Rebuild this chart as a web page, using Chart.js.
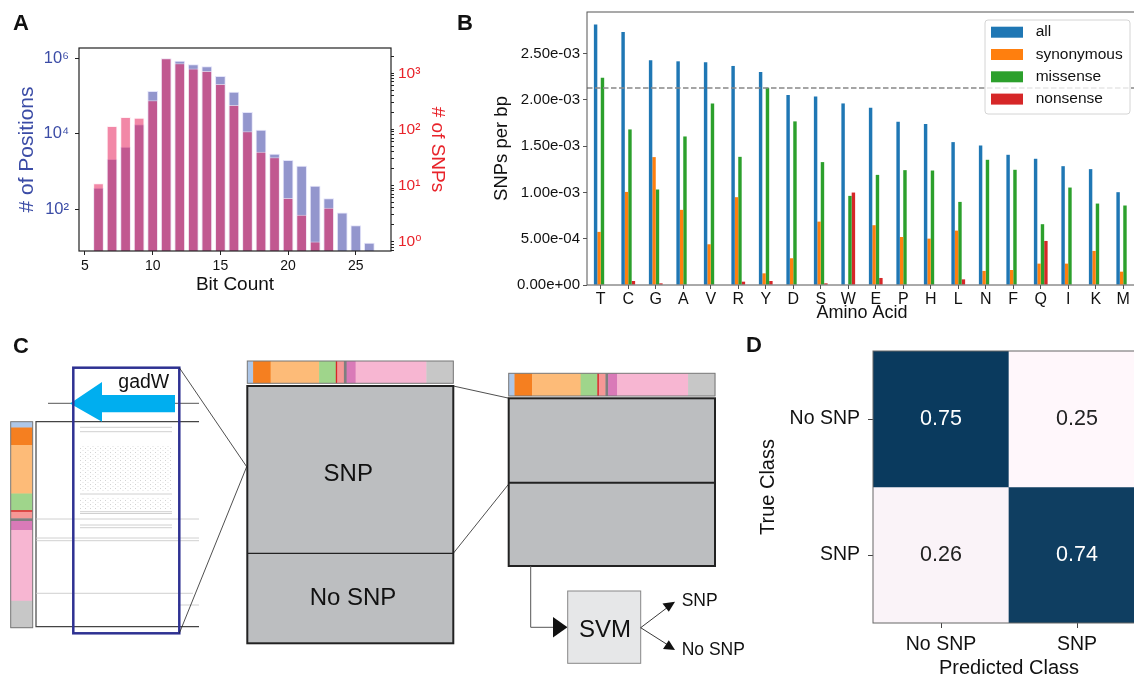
<!DOCTYPE html>
<html>
<head>
<meta charset="utf-8">
<script src="https://cdn.jsdelivr.net/npm/chart.js@4.4.1/dist/chart.umd.min.js"></script>
<style>
  html, body { margin: 0; padding: 0; background: #fff; }
  body { width: 1134px; height: 678px; overflow: hidden; position: relative; }
  canvas, svg { position: absolute; }
</style>
</head>
<body>
<canvas id="histA" width="460" height="300" style="left:0px;top:0px"></canvas>
<canvas id="barsB" width="677" height="330" style="left:460px;top:0px"></canvas>
<canvas id="confD" width="405" height="360" style="left:740px;top:330px"></canvas>
<svg id="diagram" width="1134" height="678" style="left:0px;top:0px"></svg>
<script>
// ---- panel A: bit count histogram ----
const bitCounts = [6, 7, 8, 9, 10, 11, 12, 13, 14, 15, 16, 17, 18, 19, 20, 21, 22, 23, 24, 25, 26];
const positionCounts = [372, 2150, 4550, 17900, 136000, 1000000, 865000, 692000, 614000, 340000,
  130000, 37800, 12800, 2970, 2020, 1430, 422, 196, 83, 38, 13];
const snpCounts = [11, 115, 166, 161, 330, 1850, 1510, 1210, 1100, 644,
  272, 93, 40, 32, 6, 3, 1, 4, null, null, null];
const positionTicks = [1e2, 1e4, 1e6];

// ---- panel B: SNPs per bp by amino acid ----
const aminoAcids = ['T', 'C', 'G', 'A', 'V', 'R', 'Y', 'D', 'S', 'W', 'E', 'P', 'H', 'L', 'N', 'F', 'Q', 'I', 'K', 'M'];
const allRate = [0.002814, 0.002734, 0.002428, 0.002417, 0.002406, 0.002367, 0.002302, 0.002053, 0.002038, 0.001962,
  0.001916, 0.001764, 0.001739, 0.001544, 0.001508, 0.001407, 0.001364, 0.001284, 0.001252, 0.001003];
const synonymousRate = [0.000574, 0.001006, 0.001382, 0.000812, 0.000440, 0.000949, 0.000126, 0.000289, 0.000685, 0,
  0.000646, 0.000519, 0.000501, 0.000588, 0.000152, 0.000162, 0.000231, 0.000231, 0.000368, 0.000144];
const missenseRate = [0.002240, 0.001681, 0.001032, 0.001605, 0.001962, 0.001385, 0.002132, 0.001768, 0.001328, 0.000963,
  0.001190, 0.001241, 0.001237, 0.000898, 0.001353, 0.001245, 0.000657, 0.001053, 0.000880, 0.000859];
const nonsenseRate = [0, 0.000043, 0.000018, 0, 0, 0.000036, 0.000043, 0, 0.000018, 0.000999,
  0.000076, 0, 0, 0.000061, 0, 0, 0.000476, 0, 0, 0];
const meanRate = 0.00213;

// ---- panel D: confusion matrix ----
const trueClasses = ['No SNP', 'SNP'];
const predictedClasses = ['No SNP', 'SNP'];
const confusionRates = [[0.75, 0.25], [0.26, 0.74]];

Chart.defaults.font.family = "'Liberation Sans', 'DejaVu Sans', sans-serif";
Chart.defaults.color = '#111';

const SUP = {'0': '⁰', '1': '¹', '2': '²', '3': '³', '4': '⁴', '5': '⁵', '6': '⁶', '7': '⁷', '8': '⁸', '9': '⁹', '-': '⁻'};
function isPow10(v) {
  const l = Math.log10(v);
  return Math.abs(l - Math.round(l)) < 1e-9;
}
function pow10Label(v) {
  const e = Math.round(Math.log10(v));
  return '10' + String(e).split('').map(c => SUP[c]).join('');
}
function logTicks(min, max) {
  const out = [];
  for (let e = Math.floor(Math.log10(min)); e <= Math.ceil(Math.log10(max)); e++) {
    for (let m = 1; m < 10; m++) {
      const v = m * Math.pow(10, e);
      if (v >= min && v <= max) out.push({value: v});
    }
  }
  return out;
}
function sci(v) {
  const parts = Number(v).toExponential(2).split('e');
  const exp = parts[1];
  return parts[0] + 'e' + exp[0] + exp.slice(1).padStart(2, '0');
}

// box drawn round the plot area
const frame = {
  id: 'frame',
  afterDraw(chart, args, opts) {
    const {ctx, chartArea: a} = chart;
    ctx.save();
    ctx.strokeStyle = opts.color;
    ctx.lineWidth = opts.width;
    ctx.strokeRect(a.left, a.top, a.right - a.left, a.bottom - a.top);
    ctx.restore();
  }
};

new Chart(document.getElementById('histA'), {
  type: 'bar',
  data: {
    datasets: [{
      label: '# of SNPs',
      data: bitCounts.map((b, i) => ({x: b, y: snpCounts[i]})),
      yAxisID: 'y1',
      backgroundColor: 'rgba(232,38,95,0.55)',
      borderColor: 'rgba(255,230,238,0.6)',
      borderWidth: 1,
      order: 0
    }, {
      label: '# of Positions',
      data: bitCounts.map((b, i) => ({x: b, y: positionCounts[i]})),
      yAxisID: 'y',
      backgroundColor: 'rgba(40,45,155,0.5)',
      borderColor: 'rgba(225,225,250,0.9)',
      borderWidth: 1,
      order: 1
    }]
  },
  options: {
    responsive: false,
    animation: false,
    devicePixelRatio: 1,
    layout: {padding: {top: 48}},
    datasets: {bar: {grouped: false, barPercentage: 0.79, categoryPercentage: 1}},
    plugins: {legend: {display: false}, tooltip: {enabled: false}, frame: {color: '#222', width: 1.2}},
    scales: {
      x: {
        type: 'linear', min: 4.56, max: 27.6, offset: false,
        ticks: {stepSize: 5, includeBounds: false, color: '#111', font: {size: 14}, padding: 3},
        grid: {offset: false, drawOnChartArea: false, tickLength: 4, color: '#222'},
        border: {display: false},
        title: {display: true, text: 'Bit Count', color: '#111', font: {size: 19}, padding: {top: 0, bottom: 4}},
        afterFit: s => { s.height = 49; }
      },
      y: {
        type: 'logarithmic', position: 'left', min: 7.9, max: 1.87e6,
        afterBuildTicks: s => { s.ticks = positionTicks.map(v => ({value: v})); },
        ticks: {callback: v => pow10Label(v), color: '#3b4ca6', font: {size: 16.5}, padding: 6},
        grid: {drawOnChartArea: false, tickLength: 4, color: '#222'},
        border: {display: false},
        title: {display: true, text: '# of Positions', color: '#3b4ca6', font: {size: 21}, padding: {top: 15, bottom: 0}},
        afterFit: s => { s.width = 79; }
      },
      y1: {
        type: 'logarithmic', position: 'right', min: 0.68, max: 2820,
        afterBuildTicks: s => { s.ticks = logTicks(0.68, 2820); },
        ticks: {autoSkip: false, callback: v => isPow10(v) ? pow10Label(v) : '', color: '#e8232a', font: {size: 15.5}, padding: 4},
        grid: {drawOnChartArea: false, tickLength: 3, color: '#222'},
        border: {display: false},
        title: {display: true, text: '# of SNPs', color: '#e8232a', font: {size: 19}, padding: {top: 11, bottom: 0}},
        afterFit: s => { s.width = 69; }
      }
    }
  },
  plugins: [frame]
});

// dashed reference line and boxed legend for panel B
const meanLine = {
  id: 'meanLine',
  afterDatasetsDraw(chart, args, opts) {
    const {ctx, chartArea: a} = chart;
    const y = chart.scales.y.getPixelForValue(opts.value);
    ctx.save();
    ctx.strokeStyle = '#888';
    ctx.lineWidth = 1.5;
    ctx.setLineDash([5.5, 2.5]);
    ctx.beginPath();
    ctx.moveTo(a.left, y);
    ctx.lineTo(a.right, y);
    ctx.stroke();
    ctx.restore();
  }
};
const boxLegend = {
  id: 'boxLegend',
  afterDraw(chart, args, o) {
    const ctx = chart.ctx;
    ctx.save();
    ctx.beginPath();
    ctx.roundRect(o.x, o.y, o.w, o.h, 3);
    ctx.fillStyle = 'rgba(255,255,255,0.8)';
    ctx.fill();
    ctx.strokeStyle = '#d4d4d4';
    ctx.lineWidth = 1;
    ctx.stroke();
    ctx.font = "15.5px 'Liberation Sans', 'DejaVu Sans', sans-serif";
    ctx.textBaseline = 'middle';
    chart.data.datasets.forEach((ds, i) => {
      const y = o.y + 12.2 + i * 22.3;
      ctx.fillStyle = ds.backgroundColor;
      ctx.fillRect(o.x + 6, y - 5.5, 32, 11);
      ctx.fillStyle = '#111';
      ctx.fillText(ds.label, o.x + 50.7, y);
    });
    ctx.restore();
  }
};

new Chart(document.getElementById('barsB'), {
  type: 'bar',
  data: {
    labels: aminoAcids,
    datasets: [
      {label: 'all', data: allRate, backgroundColor: '#1f77b4'},
      {label: 'synonymous', data: synonymousRate, backgroundColor: '#ff7f0e'},
      {label: 'missense', data: missenseRate, backgroundColor: '#2ca02c'},
      {label: 'nonsense', data: nonsenseRate, backgroundColor: '#d62728'}
    ]
  },
  options: {
    responsive: false,
    animation: false,
    devicePixelRatio: 1,
    layout: {padding: {top: 12}},
    datasets: {bar: {categoryPercentage: 0.5, barPercentage: 1}},
    plugins: {
      legend: {display: false},
      tooltip: {enabled: false},
      frame: {color: '#555', width: 1},
      meanLine: {value: meanRate},
      boxLegend: {x: 525, y: 20, w: 145, h: 94}
    },
    scales: {
      x: {
        ticks: {color: '#111', font: {size: 16}, padding: 1, autoSkip: false, maxRotation: 0},
        grid: {offset: false, drawOnChartArea: false, tickLength: 4, color: '#555'},
        border: {display: false},
        title: {display: true, text: 'Amino Acid', color: '#111', font: {size: 18}, padding: {top: 0, bottom: 6}},
        afterFit: s => { s.height = 45; }
      },
      y: {
        min: 0, max: 0.00295,
        ticks: {stepSize: 0.0005, includeBounds: false, callback: v => sci(v), color: '#111', font: {size: 15}, padding: 3},
        grid: {drawOnChartArea: false, tickLength: 4, color: '#555'},
        border: {display: false},
        title: {display: true, text: 'SNPs per bp', color: '#111', font: {size: 18.5}, padding: {top: 30.5, bottom: 0}},
        afterFit: s => { s.width = 127; }
      }
    }
  },
  plugins: [frame, meanLine, boxLegend]
});

// confusion matrix colours and cell labels
const flatRates = confusionRates.flat();
const rateMin = Math.min(...flatRates), rateMax = Math.max(...flatRates);
function cellShade(v) { return (v - rateMin) / (rateMax - rateMin); }
function cellColor(v) {
  const lo = [255, 247, 251], hi = [10, 58, 94];
  const t = cellShade(v);
  return 'rgb(' + lo.map((c, k) => Math.round(c + (hi[k] - c) * t)).join(',') + ')';
}
const cellText = {
  id: 'cellText',
  afterDatasetsDraw(chart) {
    const ctx = chart.ctx;
    ctx.save();
    ctx.font = "21.5px 'Liberation Sans', 'DejaVu Sans', sans-serif";
    ctx.textAlign = 'center';
    ctx.textBaseline = 'middle';
    chart.data.datasets.forEach((ds, i) => {
      chart.getDatasetMeta(i).data.forEach((bar, j) => {
        const v = confusionRates[i][j];
        ctx.fillStyle = cellShade(v) > 0.5 ? '#fff' : '#222';
        ctx.fillText(v.toFixed(2), bar.x, (bar.y + bar.base) / 2);
      });
    });
    ctx.restore();
  }
};

new Chart(document.getElementById('confD'), {
  type: 'bar',
  data: {
    labels: predictedClasses,
    datasets: trueClasses.map((t, i) => ({
      label: t,
      data: predictedClasses.map(() => [i, i + 1]),
      backgroundColor: confusionRates[i].map(cellColor),
      borderWidth: 0
    }))
  },
  options: {
    responsive: false,
    animation: false,
    devicePixelRatio: 1,
    layout: {padding: {top: 21}},
    datasets: {bar: {grouped: false, categoryPercentage: 1, barPercentage: 1}},
    plugins: {legend: {display: false}, tooltip: {enabled: false}, frame: {color: '#666', width: 1}},
    scales: {
      x: {
        ticks: {color: '#111', font: {size: 19.5}, padding: 5},
        grid: {offset: false, drawOnChartArea: false, tickLength: 5, color: '#444'},
        border: {display: false},
        title: {display: true, text: 'Predicted Class', color: '#111', font: {size: 20}, padding: {top: 0, bottom: 10}},
        afterFit: s => { s.height = 67; }
      },
      y: {
        min: 0, max: 2, reverse: true,
        afterBuildTicks: s => { s.ticks = trueClasses.map((c, i) => ({value: i + 0.5})); },
        ticks: {callback: v => trueClasses[Math.floor(v)], color: '#111', font: {size: 19.5}, padding: 8},
        grid: {drawOnChartArea: false, tickLength: 5, color: '#444'},
        border: {display: false},
        title: {display: true, text: 'True Class', color: '#111', font: {size: 20}, padding: {top: 16, bottom: 0}},
        afterFit: s => { s.width = 133; }
      }
    }
  },
  plugins: [frame, cellText]
});

// ---- panel C: schematic and panel letters ----
const svg = document.getElementById('diagram');
const NS = 'http://www.w3.org/2000/svg';
const FONT = "'Liberation Sans', 'DejaVu Sans', sans-serif";
function add(tag, attrs, text, parent) {
  const e = document.createElementNS(NS, tag);
  for (const k in attrs) e.setAttribute(k, attrs[k]);
  if (text) e.textContent = text;
  (parent || svg).appendChild(e);
  return e;
}

const regionColors = ['#aec7e8', '#f57f20', '#fdbb78', '#9fd58b', '#d62728', '#f69896', '#7f7f7f', '#d97ab8', '#f7b6d2', '#c7c7c7'];
const regionShares = [5.8, 17.5, 48.5, 16.7, 1.5, 6.6, 2.7, 9, 70.8, 26.9];
function regionBar(x, y, w, h, vertical) {
  const total = regionShares.reduce((a, b) => a + b, 0);
  let pos = 0;
  regionShares.forEach((s, i) => {
    const f = s / total;
    if (vertical) add('rect', {x: x, y: y + pos * h, width: w, height: f * h + 0.4, fill: regionColors[i]});
    else add('rect', {x: x + pos * w, y: y, width: f * w + 0.4, height: h, fill: regionColors[i]});
    pos += f;
  });
  add('rect', {x: x, y: y, width: w, height: h, fill: 'none', stroke: '#777', 'stroke-width': 1});
}

const defs = add('defs', {});
const pat = add('pattern', {id: 'dots', width: 5, height: 4, patternUnits: 'userSpaceOnUse'}, null, defs);
add('rect', {x: 0, y: 0, width: 1, height: 1, fill: '#c8c8c8'}, null, pat);
add('rect', {x: 2.5, y: 2, width: 1, height: 1, fill: '#dadada'}, null, pat);

// left: genome region strip and alignment window
regionBar(10.7, 421.7, 22, 206, true);
add('path', {d: 'M199 421.7 H36 V626.7 H199', fill: 'none', stroke: '#444', 'stroke-width': 1.2});
add('line', {x1: 48, y1: 403.3, x2: 199, y2: 403.3, stroke: '#555', 'stroke-width': 1});
const faint = [[427.3, 80, 172], [431.7, 80, 172], [494, 80, 172], [511.7, 80, 172], [513.5, 80, 172],
  [519, 36, 199], [525, 80, 172], [527.7, 80, 172], [538, 36, 199], [540.7, 36, 199], [593.3, 36, 193], [605, 178, 199]];
faint.forEach(([y, x1, x2]) => add('line', {x1: x1, y1: y, x2: x2, y2: y, stroke: '#c4c4c4', 'stroke-width': 0.8}));
add('rect', {x: 80, y: 445, width: 92, height: 47, fill: 'url(#dots)', opacity: 0.8});
add('rect', {x: 80, y: 497, width: 92, height: 13, fill: 'url(#dots)', opacity: 0.8});
add('polygon', {points: '70,403.5 102,382 102,395 175,395 175,412.3 102,412.3 102,421.7', fill: '#00aeef'});
add('rect', {x: 73.3, y: 367.7, width: 106, height: 265.6, fill: 'none', stroke: '#2e3192', 'stroke-width': 2.5});
add('text', {x: 118.3, y: 388.3, 'font-size': 19.5, 'font-family': FONT, fill: '#111'}, 'gadW');
add('polyline', {points: '179.3,367.7 246.7,466.7 179.3,633.3', fill: 'none', stroke: '#222', 'stroke-width': 0.8});

// middle: SNP / No SNP block
regionBar(247.3, 361, 206, 22.3, false);
add('rect', {x: 247.3, y: 386, width: 206, height: 257.3, fill: '#bcbec0', stroke: '#222', 'stroke-width': 2});
add('line', {x1: 247.3, y1: 553.3, x2: 453.3, y2: 553.3, stroke: '#222', 'stroke-width': 1.2});
add('text', {x: 348.3, y: 481, 'font-size': 24, 'font-family': FONT, fill: '#111', 'text-anchor': 'middle'}, 'SNP');
add('text', {x: 353, y: 605, 'font-size': 24, 'font-family': FONT, fill: '#111', 'text-anchor': 'middle'}, 'No SNP');
add('line', {x1: 453.3, y1: 386, x2: 509.3, y2: 398.3, stroke: '#222', 'stroke-width': 0.8});
add('line', {x1: 453.3, y1: 553.3, x2: 509.3, y2: 483.3, stroke: '#222', 'stroke-width': 0.8});

// right: balanced block and SVM
regionBar(508.7, 373.3, 206.3, 22.7, false);
add('rect', {x: 508.7, y: 398.3, width: 206.3, height: 167.7, fill: '#bcbec0', stroke: '#222', 'stroke-width': 2});
add('line', {x1: 508.7, y1: 482.7, x2: 715, y2: 482.7, stroke: '#222', 'stroke-width': 2});
add('polyline', {points: '530.7,566 530.7,627.3 554,627.3', fill: 'none', stroke: '#555', 'stroke-width': 1});
add('polygon', {points: '553,617 567.5,627.3 553,637.5', fill: '#111'});
add('rect', {x: 567.7, y: 591, width: 73, height: 72.3, fill: '#e6e7e8', stroke: '#888', 'stroke-width': 1});
add('text', {x: 605, y: 636.5, 'font-size': 24, 'font-family': FONT, fill: '#111', 'text-anchor': 'middle'}, 'SVM');
add('line', {x1: 640.7, y1: 627.7, x2: 668, y2: 607, stroke: '#222', 'stroke-width': 0.9});
add('polygon', {points: '675,601.7 662.5,603.5 668.8,611.8', fill: '#111'});
add('line', {x1: 640.7, y1: 627.7, x2: 668, y2: 645, stroke: '#222', 'stroke-width': 0.9});
add('polygon', {points: '675,650 668.8,640.2 663,649', fill: '#111'});
add('text', {x: 681.7, y: 605.5, 'font-size': 17.5, 'font-family': FONT, fill: '#111'}, 'SNP');
add('text', {x: 681.7, y: 654.5, 'font-size': 17.5, 'font-family': FONT, fill: '#111'}, 'No SNP');

// panel letters
[['A', 13, 30], ['B', 457, 30], ['C', 13, 352.5], ['D', 746, 351.7]].forEach(([t, x, y]) => {
  add('text', {x: x, y: y, 'font-size': 22, 'font-weight': 'bold', 'font-family': FONT, fill: '#111'}, t);
});
</script>
</body>
</html>
